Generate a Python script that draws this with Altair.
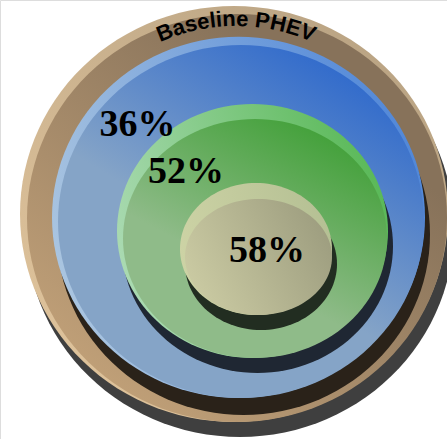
import math
import altair as alt
import pandas as pd

W, H = 447, 439

# ---- diagram geometry (pixel units of the picture) ----
disk_names = ["Baseline PHEV", "36%", "52%", "58%"]
rim_cx = [234, 238.5, 252.5, 256]
rim_cy = [214, 217.4, 231, 249]
rim_rx = [214, 186.5, 135.5, 76]
rim_ry = [208, 180.6, 127, 66]
face_cx = [237, 241, 255, 258.5]
face_cy = [218, 221.5, 238.5, 257]
face_rx = [210, 183, 132, 73.5]
face_ry = [204, 176.5, 119.5, 58]
shadow_dx = [6, 5, 5, 5]
shadow_dy = [15, 17, 15, 15]

# ---- labels ----
label_text = ["36%", "52%", "58%"]
label_x = [137.5, 186, 267]
label_y = [136, 182.5, 262]

title_text = "Baseline PHEV"
title_radius = 188
title_size = 22

# ---- colours ----
shadow_color = ["#3f3f3f", "#2a2219", "#1f2733", "#222d21"]


def grad(x1, y1, x2, y2, c1, c2):
    return {"gradient": "linear", "x1": x1, "y1": y1, "x2": x2, "y2": y2,
            "stops": [{"offset": 0, "color": c1}, {"offset": 1, "color": c2}]}


rim_fill = [
    grad(0.1, 0.9, 0.9, 0.1, "#dfc39b", "#b9a383"),
    grad(0.0, 0.6, 1.0, 0.3, "#aac5e0", "#4f86d8"),
    grad(0.0, 0.6, 1.0, 0.3, "#aadab2", "#58b856"),
    grad(0.0, 0.6, 1.0, 0.4, "#cdd3a5", "#b5c094"),
]
face_fill = [
    grad(0.1, 0.9, 0.7, 0.2, "#c3a279", "#87725a"),
    grad(0.85, 0.05, 0.5, 0.6, "#2a66cc", "#85a4c7"),
    grad(0.8, 0.05, 0.45, 0.65, "#41a038", "#8fbb89"),
    grad(0.0, 0.7, 1.0, 0.3, "#cbcba3", "#9d9d7f"),
]

# Liberation Sans Bold advance widths (per 1000 em)
char_w = {"B": 722, "a": 556, "s": 556, "e": 556, "l": 278, "i": 278, "n": 611,
          " ": 278, "P": 667, "H": 722, "E": 667, "V": 667}

xs = alt.Scale(domain=[0, W], nice=False, zero=False)
ys = alt.Scale(domain=[0, H], nice=False, zero=False, reverse=True)
X = alt.X("cx:Q", scale=xs, axis=None)
Y = alt.Y("cy:Q", scale=ys, axis=None)


def ellipse_path(aspect, n=120):
    pts = []
    for k in range(n):
        t = 2 * math.pi * k / n
        pts.append(f"{math.cos(t):.4f},{aspect * math.sin(t):.4f}")
    return "M" + " L".join(pts) + " Z"


def ellipse(cx, cy, rx, ry, fill):
    df = pd.DataFrame({"cx": [cx], "cy": [cy]})
    return alt.Chart(df).mark_point(
        shape=ellipse_path(ry / rx), size=(2 * rx) ** 2, filled=True,
        fill=fill, opacity=1, fillOpacity=1, strokeWidth=0
    ).encode(x=X, y=Y)


layers = []
for i in range(len(disk_names)):
    layers.append(ellipse(rim_cx[i] + shadow_dx[i], rim_cy[i] + shadow_dy[i],
                          rim_rx[i], rim_ry[i], shadow_color[i]))
    layers.append(ellipse(rim_cx[i], rim_cy[i], rim_rx[i], rim_ry[i], rim_fill[i]))
    layers.append(ellipse(face_cx[i], face_cy[i], face_rx[i], face_ry[i], face_fill[i]))

labels = pd.DataFrame({"cx": label_x, "cy": label_y, "t": label_text})
layers.append(alt.Chart(labels).mark_text(
    font="Liberation Serif", fontWeight="bold", fontSize=38, color="black",
    align="center", baseline="alphabetic"
).encode(x=X, y=Y, text="t:N"))

# curved title along the outer ring
scale = title_size / 1000.0
widths = [char_w[c] * scale for c in title_text]
total = sum(widths)
rows = []
acc = 0.0
for c, w in zip(title_text, widths):
    s = acc + w / 2 - total / 2
    acc += w
    th = s / title_radius
    rows.append({"cx": rim_cx[0] + 2 + title_radius * math.sin(th),
                 "cy": rim_cy[0] - title_radius * math.cos(th),
                 "ch": c, "rot": math.degrees(th) % 360})
title_df = pd.DataFrame(rows)
layers.append(alt.Chart(title_df).mark_text(
    font="Liberation Sans", fontWeight="bold", fontSize=title_size, color="black",
    align="center", baseline="alphabetic"
).encode(x=X, y=Y, text="ch:N", angle=alt.Angle("rot:Q", scale=None)))

chart = alt.layer(*layers).properties(
    width=W, height=H, padding=0, autosize=alt.AutoSizeParams(type="none")
).configure_view(stroke=None).configure(background="white")

chart.save("out.html", embed_options={"renderer": "svg", "actions": False})
